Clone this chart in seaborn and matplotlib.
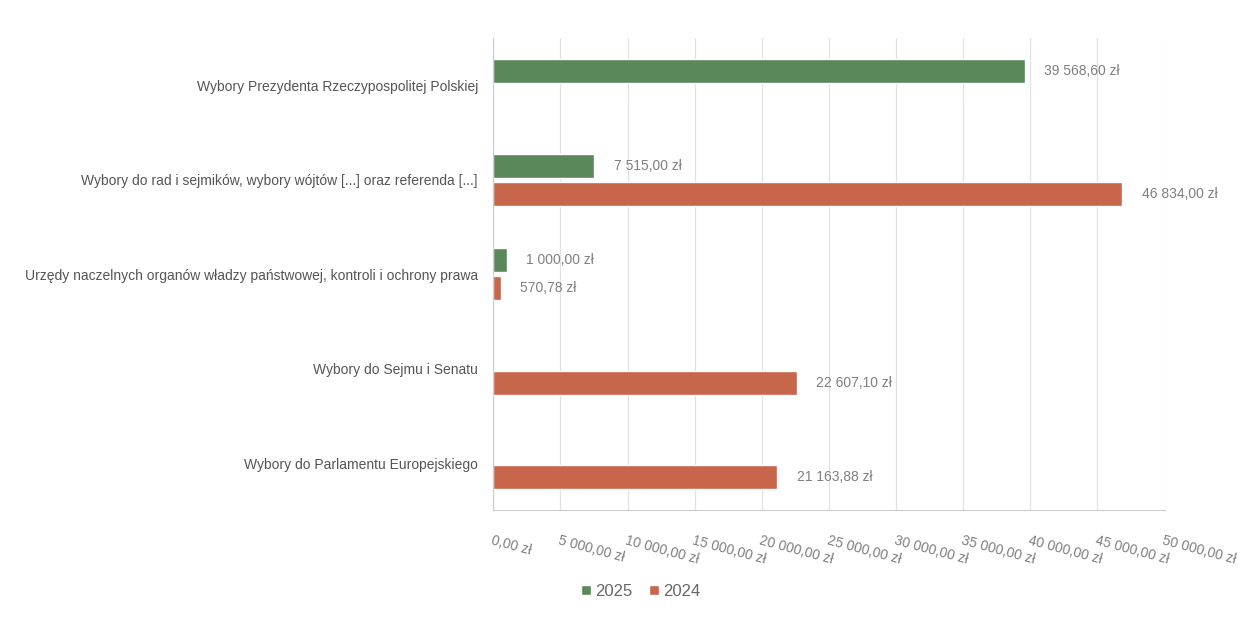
import numpy as np
import pandas as pd
import matplotlib.pyplot as plt
import seaborn as sns

# data
categories = ['Wybory Prezydenta Rzeczypospolitej Polskiej',
              'Wybory do rad i sejmików, wybory wójtów [...] oraz referenda [...]',
              'Urzędy naczelnych organów władzy państwowej, kontroli i ochrony prawa',
              'Wybory do Sejmu i Senatu',
              'Wybory do Parlamentu Europejskiego']
values_2025 = [39568.60, 7515.00, 1000.00, np.nan, np.nan]
values_2024 = [np.nan, 46834.00, 570.78, 22607.10, 21163.88]
years = ['2025', '2024']
x_ticks = [0, 5000, 10000, 15000, 20000, 25000, 30000, 35000, 40000, 45000, 50000]

colors = {'2025': '#5b885b', '2024': '#c8664b'}


def zl(v):
    return f"{v:,.2f}".replace(",", " ").replace(".", ",") + " zł"


df = pd.DataFrame({
    'kategoria': categories * 2,
    'rok': ['2025'] * len(categories) + ['2024'] * len(categories),
    'kwota': values_2025 + values_2024,
})
df = df.dropna()

sns.set_style('white')
plt.rcParams['font.family'] = ['Liberation Sans', 'DejaVu Sans']

fig = plt.figure(figsize=(12.55, 6.17), dpi=100)
ax = fig.add_axes([0.393, 0.173, 0.535, 0.765])

sns.barplot(data=df, y='kategoria', x='kwota', hue='rok', order=categories,
            hue_order=years, palette=colors, orient='h', width=0.6, gap=0.15,
            saturation=1, ax=ax, legend=True)

for cont in ax.containers:
    labels = [zl(b.get_width()) if b.get_width() > 0 else '' for b in cont]
    ax.bar_label(cont, labels=labels, padding=14, fontsize=10, color='#808080')

ax.set_xlim(0, 50000)
ax.set_ylim(len(categories) - 0.5, -0.5)
ax.set_xticks(x_ticks)
ax.set_xticklabels([zl(t) for t in x_ticks], rotation=-15, ha='left',
                   rotation_mode='anchor', fontsize=10, color='#808080')
ax.tick_params(axis='x', length=4, color='#cccccc', pad=13)
ax.tick_params(axis='y', which='major', length=0, labelsize=10,
               labelcolor='#555555', pad=11)
ax.set_yticks(np.arange(-0.5, len(categories) + 0.5, 1), minor=True)
ax.tick_params(axis='y', which='minor', length=5, color='#cccccc')
ax.xaxis.grid(True, color='#e2e2e2', linewidth=0.9)
ax.set_axisbelow(True)
ax.set_xlabel('')
ax.set_ylabel('')
for side in ['top', 'right']:
    ax.spines[side].set_visible(False)
for side in ['left', 'bottom']:
    ax.spines[side].set_color('#cccccc')

ax.legend(loc='center', bbox_to_anchor=(0.22, -0.172), ncol=2, frameon=False,
          handlelength=0.6, handleheight=0.6, handletextpad=0.25,
          columnspacing=1.0, fontsize=12, labelcolor='#666666')

fig.savefig('out.png', dpi=100)
